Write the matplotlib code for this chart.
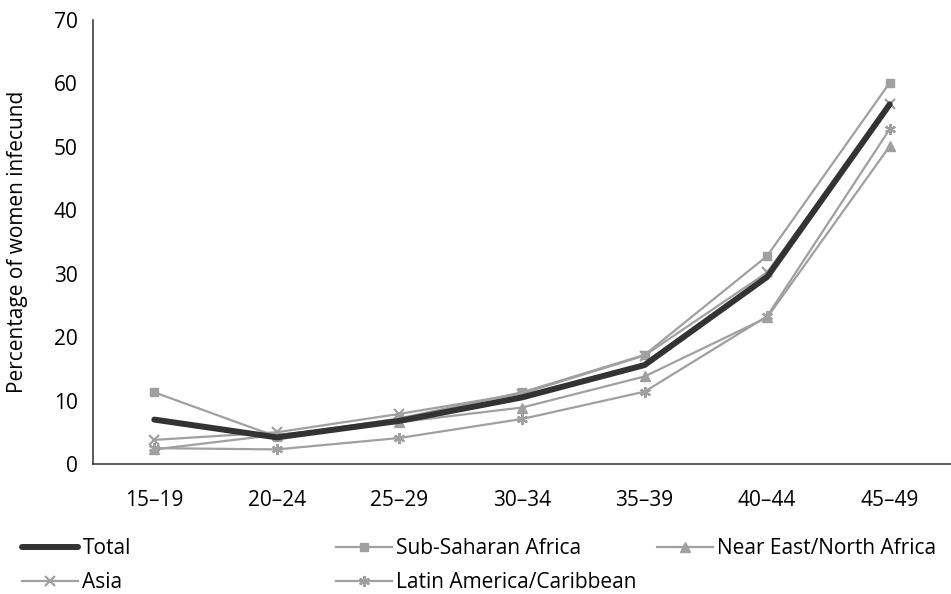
import matplotlib.pyplot as plt

plt.rcParams['font.family'] = ['Open Sans', 'DejaVu Sans']
plt.rcParams['font.size'] = 15

age_groups = ['15–19', '20–24', '25–29', '30–34', '35–39', '40–44', '45–49']
total = [7.0, 4.2, 6.8, 10.5, 15.6, 29.5, 56.7]
sub_saharan = [11.3, 4.3, 7.2, 11.3, 17.2, 32.8, 60.1]
near_east = [2.3, 4.6, 6.6, 8.9, 13.8, 23.1, 50.1]
asia = [3.8, 5.0, 7.9, 11.1, 17.1, 30.2, 56.8]
latin_america = [2.5, 2.3, 4.1, 7.1, 11.4, 23.3, 52.8]

grey = '#a0a0a0'
dark = '#333333'

fig = plt.figure(figsize=(9.51, 5.94), dpi=100)
ax = fig.add_axes([93/951, 1 - 464/594, 1 - 93/951, (464 - 20)/594])

x = list(range(len(age_groups)))
h_ssa, = ax.plot(x, sub_saharan, color=grey, lw=1.6, marker='s', ms=6, label='Sub-Saharan Africa')
h_ne, = ax.plot(x, near_east, color=grey, lw=1.6, marker='^', ms=7, label='Near East/North Africa')
h_asia, = ax.plot(x, asia, color=grey, lw=1.6, marker='x', ms=7, mew=1.6, label='Asia')
h_lac, = ax.plot(x, latin_america, color=grey, lw=1.6, marker=(6, 2, 0), ms=8, mew=1.6,
                 label='Latin America/Caribbean')
h_tot, = ax.plot(x, total, color=dark, lw=4.3, solid_capstyle='round', label='Total', zorder=5)

ax.set_xlim(-0.5, len(age_groups) - 0.5)
ax.set_ylim(0, 70)
ax.set_yticks(range(0, 71, 10))
ax.set_xticks(x)
ax.set_xticklabels(age_groups)
ax.tick_params(axis='x', length=0, pad=19)
ax.tick_params(axis='y', length=0, pad=11)
for s in ['top', 'right']:
    ax.spines[s].set_visible(False)
for s in ['left', 'bottom']:
    ax.spines[s].set_color('#404040')
    ax.spines[s].set_linewidth(1.2)

ax.set_ylabel('Percentage of women infecund', fontsize=15)
ax.yaxis.set_label_coords(-0.076, 0.5)

# legend: three columns placed by hand
cols = [([h_tot, h_asia], 22), ([h_ssa, h_lac], 336), ([h_ne], 657)]
for handles, px in cols:
    fig.legend(handles=handles, loc='upper left', bbox_to_anchor=(px/951, 1 - 538/594),
               frameon=False, handlelength=2.7, handletextpad=0.2, labelspacing=0.62,
               borderaxespad=0, borderpad=0, fontsize=15)

fig.savefig('out.png', dpi=100)
